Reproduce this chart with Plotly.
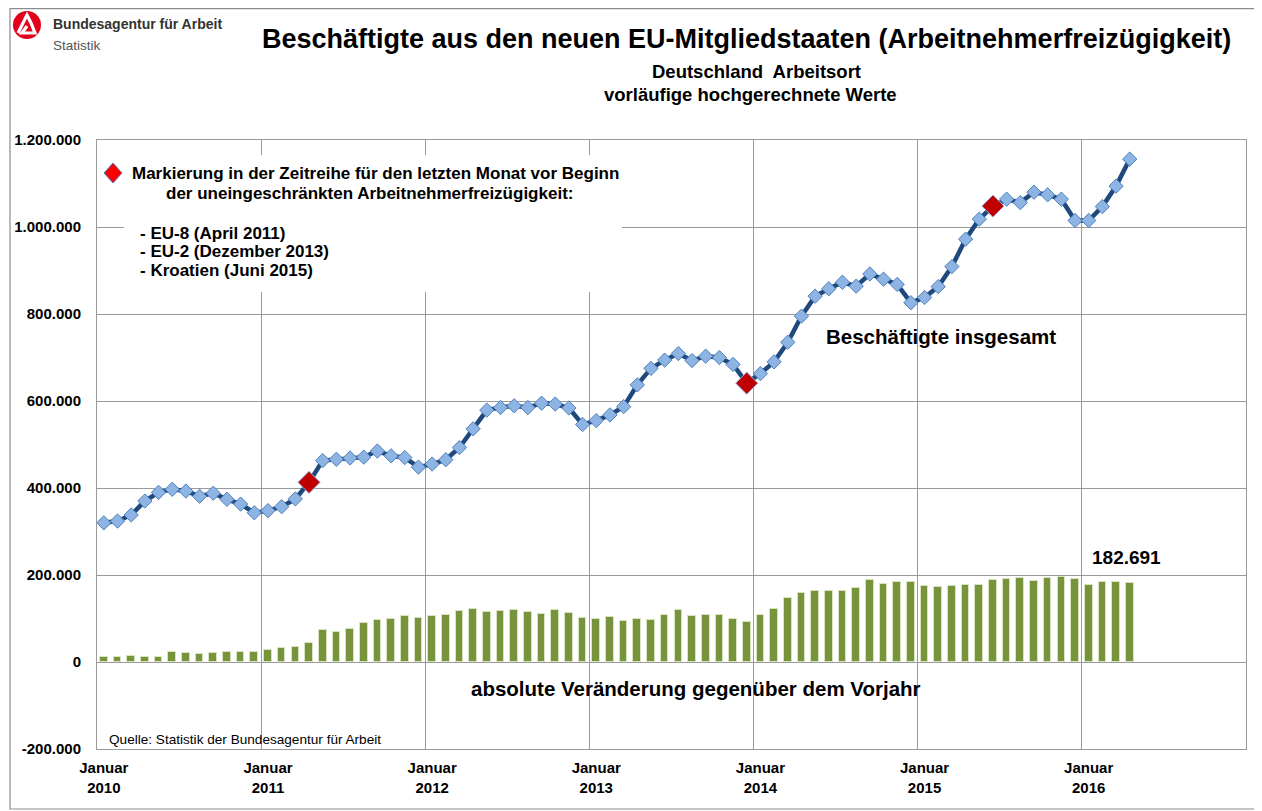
import plotly.graph_objects as go

# ---------------- data ----------------
jahre = [2010, 2011, 2012, 2013, 2014, 2015, 2016]
monatsnamen = ["Jan", "Feb", "Mär", "Apr", "Mai", "Jun", "Jul", "Aug", "Sep", "Okt", "Nov", "Dez"]

beschaeftigte = [
    # 2010
    320000, 324000, 338000, 370000, 390000, 397000, 393000, 381000, 388000, 374000, 363000, 343000,
    # 2011
    348000, 357000, 375000, 413000, 463000, 466000, 469000, 471000, 485000, 474000, 470000, 448000,
    # 2012
    455000, 465000, 493000, 536000, 579000, 585000, 589000, 585000, 595000, 593000, 584000, 546000,
    # 2013
    555000, 568000, 587000, 637000, 675000, 694000, 709000, 693000, 703000, 700000, 684000, 641000,
    # 2014
    663000, 690000, 735000, 795000, 841000, 858000, 873000, 864000, 892000, 880000, 868000, 826000,
    # 2015
    838000, 863000, 909000, 972000, 1018000, 1048000, 1064000, 1056000, 1080000, 1074000, 1064000, 1015000,
    # 2016
    1015000, 1047000, 1094000, 1156000,
]

veraenderung = [
    10700, 10700, 13000, 12300, 11500, 22000, 20000, 19000, 20000, 22000, 22000, 22000,
    28000, 32000, 35000, 43000, 73000, 70000, 77000, 90000, 97000, 100000, 106500, 102000,
    106000, 107000, 117000, 122000, 115000, 118000, 119000, 114000, 110000, 119000, 113000, 101000,
    99000, 103000, 95000, 100000, 97000, 109000, 119000, 106500, 107000, 107000, 100000, 93000,
    108000, 121000, 146000, 158000, 164000, 164000, 163000, 170000, 188000, 180000, 183000, 183000,
    174000, 172000, 174000, 176000, 177000, 188000, 190000, 192000, 187000, 192000, 196000, 190000,
    176000, 184000, 185000, 182691,
]

# last month before unrestricted free movement: April 2011, Dezember 2013, Juni 2015
markierung_monate = [(2011, 4), (2013, 12), (2015, 6)]
markierung_kopf = ["Markierung in der Zeitreihe für den letzten Monat vor Beginn",
                   "der uneingeschränkten Arbeitnehmerfreizügigkeit:"]
markierung_liste = ["- EU-8 (April 2011)", "- EU-2 (Dezember 2013)", "- Kroatien (Juni 2015)"]

y_tickvals = [-200000, 0, 200000, 400000, 600000, 800000, 1000000, 1200000]
y_ticktext = ["-200.000", "0", "200.000", "400.000", "600.000", "800.000", "1.000.000", "1.200.000"]

letzter_wert_text = "182.691"

# ---------------- derived ----------------
n = len(beschaeftigte)
monate = [f"{monatsnamen[i % 12]} {jahre[0] + i // 12}" for i in range(n)]
x_pos = [i + 0.5 for i in range(n)]  # month centres on a month-index axis
mark_idx = [(y - jahre[0]) * 12 + (m - 1) for (y, m) in markierung_monate]
mark_x = [x_pos[i] for i in mark_idx]
mark_y = [beschaeftigte[i] for i in mark_idx]

x_tickvals = [(y - jahre[0]) * 12 + 0.5 for y in jahre]
x_ticktext = [f"Januar<br>{y}" for y in jahre]

# ---------------- layout geometry (page pixels; page body adds an 8px offset) ----------------
W, H = 1254, 803
L, R, T, B = 89, 16, 132, 62
PW, PH = W - L - R, H - T - B
PLOT_LEFT, PLOT_BOTTOM = 97, 749  # page coordinates of plot area


def px(x):
    return (x - PLOT_LEFT) / PW


def py(y):
    return (PLOT_BOTTOM - y) / PH


FONT = "Arial, Liberation Sans, sans-serif"
GRID = "#9a9a9a"

fig = go.Figure()

fig.add_trace(go.Bar(
    x=x_pos, y=veraenderung, width=0.56,
    marker=dict(color="#77933C", line=dict(color="#D7E4BD", width=1)),
    hovertext=monate, hoverinfo="text+y", name="Veränderung",
))

fig.add_trace(go.Scatter(
    x=x_pos, y=beschaeftigte, mode="lines+markers",
    line=dict(color="#1F497D", width=4.5),
    marker=dict(symbol="diamond", size=11, color="#8EB4E3", line=dict(color="#4F81BD", width=1)),
    hovertext=monate, hoverinfo="text+y", name="Beschäftigte insgesamt",
))

fig.add_trace(go.Scatter(
    x=mark_x, y=mark_y, mode="markers",
    marker=dict(symbol="diamond", size=17, color="#C00000", line=dict(color="#8EB4E3", width=1)),
    hoverinfo="skip", name="Markierung",
))

shapes = []
# white legend box covering the grid
shapes.append(dict(type="rect", xref="paper", yref="paper", layer="above",
                   x0=px(124), x1=px(622), y0=py(292), y1=py(155),
                   fillcolor="white", line=dict(width=0)))
# legend diamond
cx, cy, hw, hh = 113, 173, 9, 10
shapes.append(dict(type="path", xref="paper", yref="paper", layer="above",
                   path=f"M {px(cx-hw)},{py(cy)} L {px(cx)},{py(cy-hh)} L {px(cx+hw)},{py(cy)} L {px(cx)},{py(cy+hh)} Z",
                   fillcolor="#FF0000", line=dict(color="#4F81BD", width=1)))
# outer border of the figure
shapes.append(dict(type="rect", xref="paper", yref="paper", layer="above",
                   x0=px(10), x1=px(1257), y0=py(809), y1=py(8.6),
                   line=dict(color="#8c8c8c", width=1.2)))
# logo: red circle with white "A"
shapes.append(dict(type="circle", xref="paper", yref="paper", layer="above",
                   x0=px(13), x1=px(41), y0=py(39), y1=py(11),
                   fillcolor="#E2001A", line=dict(width=0)))
shapes.append(dict(type="path", xref="paper", yref="paper", layer="above",
                   path=(f"M {px(18)},{py(33)} L {px(27)},{py(15)} L {px(31)},{py(23)} "
                         f"L {px(35)},{py(33)} L {px(22)},{py(33)} L {px(27)},{py(26)}"),
                   line=dict(color="white", width=3.2)))

annotations = []


def ann(text, x, y, size, xanchor="center", yanchor="middle", bold=True, color="black", align="center"):
    annotations.append(dict(
        text=text, x=px(x), y=py(y), xref="paper", yref="paper",
        xanchor=xanchor, yanchor=yanchor, showarrow=False, align=align,
        font=dict(family=FONT, size=size, color=color, weight="bold" if bold else "normal"),
    ))


ann("Beschäftigte aus den neuen EU-Mitgliedstaaten (Arbeitnehmerfreizügigkeit)", 746, 39, 27)
ann("Deutschland  Arbeitsort", 756, 71, 18.5)
ann("vorläufige hochgerechnete Werte", 750, 94, 18.5)
ann("Bundesagentur für Arbeit", 51, 24, 14, xanchor="left", color="#333333")
ann("Statistik", 51, 45, 13.5, xanchor="left", bold=False, color="#555555")

ann(markierung_kopf[0], 130, 173, 17, xanchor="left")
ann(markierung_kopf[1], 369, 193, 17)
for i, zeile in enumerate(markierung_liste):
    ann(zeile, 138, [233, 251, 270][i], 17, xanchor="left")

ann("Beschäftigte insgesamt", 941, 336, 20.5)
ann("absolute Veränderung gegenüber dem Vorjahr", 696, 688, 20.5)
ann(letzter_wert_text, 1126, 557, 19)
ann("Quelle: Statistik der Bundesagentur für Arbeit", 107, 739, 13.6, xanchor="left", bold=False)

fig.update_layout(
    width=W, height=H,
    margin=dict(l=L, r=R, t=T, b=B, pad=0, autoexpand=False),
    paper_bgcolor="white", plot_bgcolor="white",
    showlegend=False,
    bargap=0,
    shapes=shapes,
    annotations=annotations,
    font=dict(family=FONT, color="black"),
)

fig.update_xaxes(
    range=[0, 84], tickmode="array", tickvals=x_tickvals, ticktext=x_ticktext,
    showgrid=False, zeroline=False, ticks="", ticklabelstandoff=5, automargin=False,
    tickfont=dict(family=FONT, size=15, color="black", weight="bold"),
    showline=True, mirror=True, linecolor=GRID, linewidth=1,
    minor=dict(tickmode="linear", tick0=0, dtick=12, showgrid=True, gridcolor=GRID, gridwidth=1, ticks=""),
)
fig.update_yaxes(
    range=[-200000, 1200000], tickmode="array", tickvals=y_tickvals, ticktext=y_ticktext,
    showgrid=True, gridcolor=GRID, gridwidth=1, automargin=False,
    zeroline=True, zerolinecolor=GRID, zerolinewidth=1, ticks="", ticklabelstandoff=12,
    tickfont=dict(family=FONT, size=15, color="black", weight="bold"),
    showline=True, mirror=True, linecolor=GRID, linewidth=1,
)

fig.write_html("out.html")
